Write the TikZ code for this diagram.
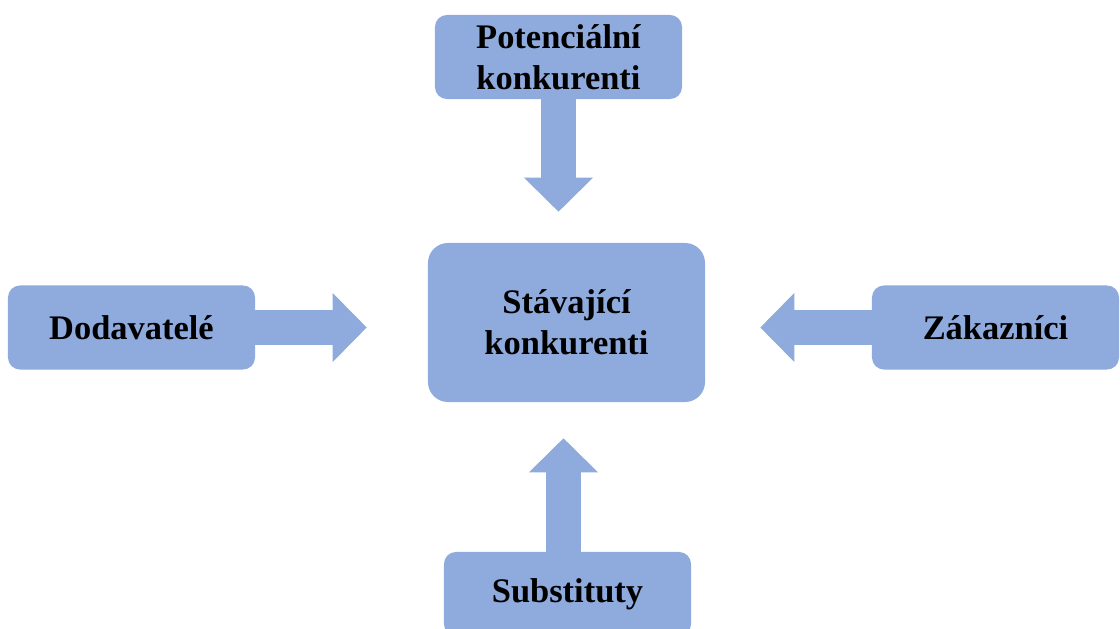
\documentclass[tikz,border=0pt]{standalone}
\usepackage{fontspec}
\setmainfont{Liberation Serif}
\usetikzlibrary{arrows.meta}
\definecolor{boxblue}{HTML}{8FAADC}
\begin{document}
\begin{tikzpicture}[x=.025cm, y=-.025cm, font=\bfseries\fontsize{24.5}{29}\selectfont,
	box/.style={fill=boxblue, rounded corners=.3cm, align=center, inner sep=0pt,
		minimum width=6.175cm, minimum height=2.1cm},
	push/.style={draw=boxblue, line width=.89cm,
		-{Triangle[width=1.725cm, length=.85cm, line width=0pt]}}]
	\useasboundingbox (0,0) rectangle (1120,629);
	%boxes
	\node[box] (pot) at (558.5,57) {Potenciální\\konkurenti};
	\node[box, minimum width=6.925cm, minimum height=3.975cm, rounded corners=.5cm] (stav)
		at (566.5,322.5) {Stávající\\konkurenti};
	\node[box] (dod) at (131.5,327.5) {Dodavatelé};
	\node[box] (zak) at (995.5,327.5) {Zákazníci};
	\node[box] (sub) at (567.5,594) {Substituty};
	%arrows
	\draw[push, shorten >=.775cm] (pot.south) -- (pot.south |- stav.north);
	\draw[push, shorten >=1.525cm] (dod.east) -- (dod.east -| stav.west);
	\draw[push, shorten >=1.375cm] (zak.west) -- (zak.west -| stav.east);
	\draw[push, shorten >=.9cm] ([xshift=-.1cm]sub.north) -- ([xshift=-.1cm]sub.north |- stav.south);
\end{tikzpicture}
\end{document}
